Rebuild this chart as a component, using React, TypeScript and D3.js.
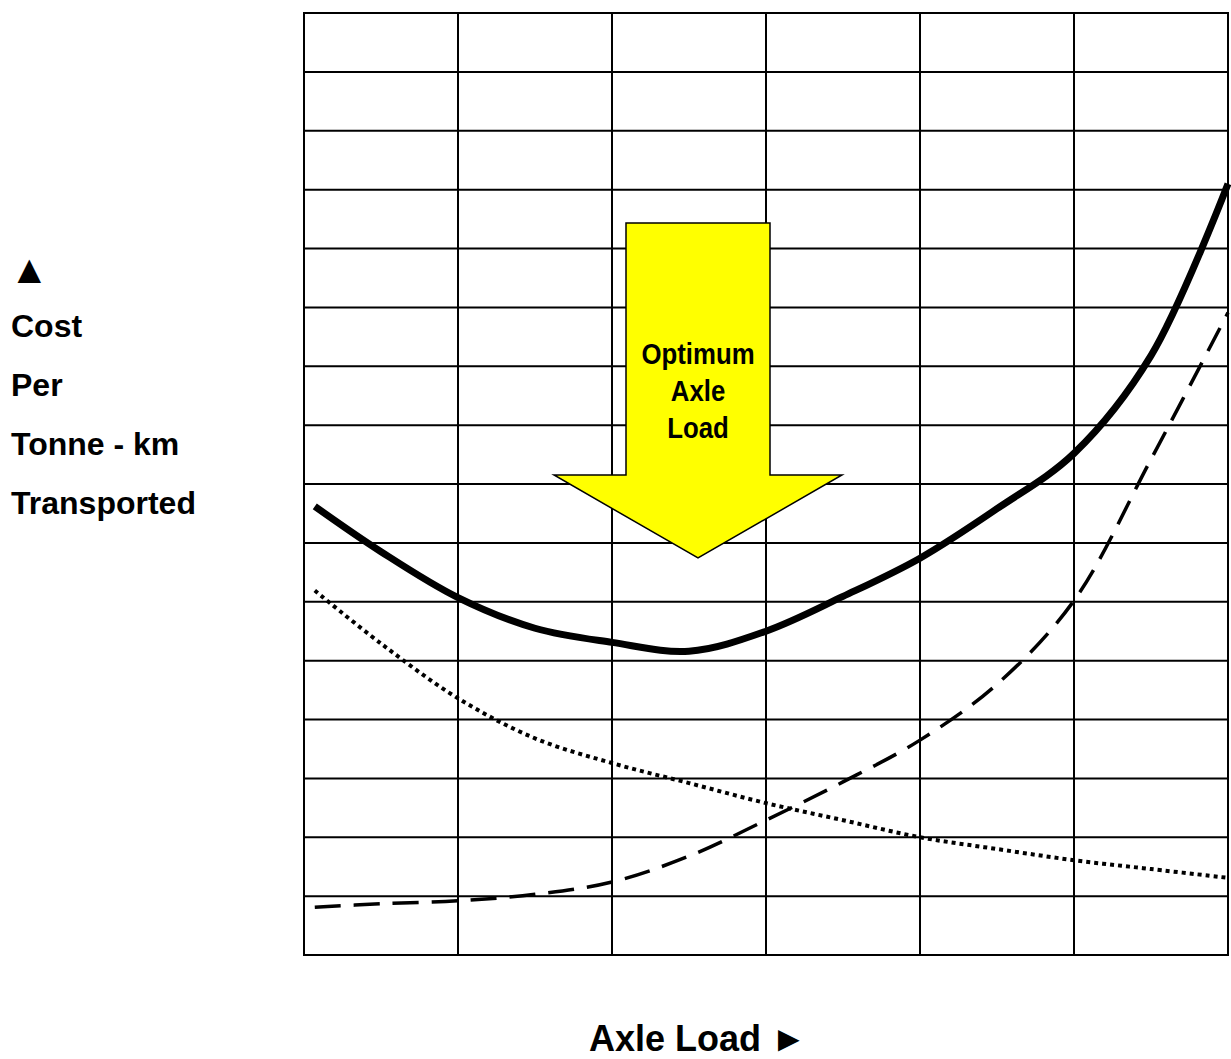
import { useEffect, useRef } from 'react';
import * as d3 from 'd3';

// Axle load positions, in grid columns (0..6)
const axleLoad = [0.07, 0.5, 1, 1.5, 2, 2.5, 3, 3.5, 4, 4.5, 5, 5.5, 6];

// Cost per tonne-km, in grid rows (0..16)
const totalCost = [7.62, 6.85, 6.07, 5.55, 5.31, 5.16, 5.5, 6.09, 6.74, 7.58, 8.52, 10.18, 13.1];
const trackCost = [0.81, 0.87, 0.92, 1.03, 1.24, 1.68, 2.29, 2.94, 3.65, 4.6, 6.02, 8.42, 10.91];
const vehicleCost = [6.19, 5.29, 4.36, 3.68, 3.26, 2.92, 2.58, 2.29, 2.0, 1.8, 1.61, 1.46, 1.31];

const gridColumns = d3.range(0, 7);
const gridRows = d3.range(0, 17);

const yAxisLabels = ['Cost', 'Per', 'Tonne - km', 'Transported'];
const arrowLabel = ['Optimum', 'Axle', 'Load'];
const xAxisLabel = 'Axle Load \u25BA';

const W = 1231;
const H = 1059;
const FONT = '"Liberation Sans", Arial, Helvetica, sans-serif';

export default function App() {
  const svgRef = useRef<SVGSVGElement>(null);

  useEffect(() => {
    if (!svgRef.current) return;
    const svg = d3.select(svgRef.current);
    svg.selectAll('*').remove();

    const x = d3.scaleLinear().domain([0, 6]).range([304, 1228]);
    const y = d3.scaleLinear().domain([0, 16]).range([955, 13]);

    // Grid
    const grid = svg.append('g').attr('stroke', '#000').attr('stroke-width', 2);
    grid
      .selectAll('.v')
      .data(gridColumns)
      .enter()
      .append('line')
      .attr('x1', (d) => x(d))
      .attr('x2', (d) => x(d))
      .attr('y1', y(0) + 1)
      .attr('y2', y(16) - 1);
    grid
      .selectAll('.h')
      .data(gridRows)
      .enter()
      .append('line')
      .attr('x1', x(0) - 1)
      .attr('x2', x(6) + 1)
      .attr('y1', (d) => y(d))
      .attr('y2', (d) => y(d));

    const line = (vals: number[]) =>
      d3
        .line<number>()
        .x((_, i) => x(axleLoad[i]))
        .y((d) => y(d))
        .curve(d3.curveCatmullRom.alpha(0.5))(vals);

    // Vehicle cost (dotted)
    svg
      .append('path')
      .attr('d', line(vehicleCost))
      .attr('fill', 'none')
      .attr('stroke', '#000')
      .attr('stroke-width', 4)
      .attr('stroke-dasharray', '4 4');

    // Track cost (dashed)
    svg
      .append('path')
      .attr('d', line(trackCost))
      .attr('fill', 'none')
      .attr('stroke', '#000')
      .attr('stroke-width', 3.5)
      .attr('stroke-dasharray', '26 13');

    // Total cost (solid)
    svg
      .append('path')
      .attr('d', line(totalCost))
      .attr('fill', 'none')
      .attr('stroke', '#000')
      .attr('stroke-width', 7);

    // Optimum arrow
    const ax = 698;
    const arrow = d3.path();
    arrow.moveTo(ax - 72, 223);
    arrow.lineTo(ax + 72, 223);
    arrow.lineTo(ax + 72, 475);
    arrow.lineTo(ax + 144, 475);
    arrow.lineTo(ax, 558);
    arrow.lineTo(ax - 144, 475);
    arrow.lineTo(ax - 72, 475);
    arrow.closePath();
    svg
      .append('path')
      .attr('d', arrow.toString())
      .attr('fill', '#FFFF00')
      .attr('stroke', '#000')
      .attr('stroke-width', 1.5);

    svg
      .selectAll('.arrow-label')
      .data(arrowLabel)
      .enter()
      .append('text')
      .attr('transform', (_, i) => `translate(${ax},${364 + i * 37}) scale(0.86,1)`)
      .attr('text-anchor', 'middle')
      .attr('font-family', FONT)
      .attr('font-weight', 'bold')
      .attr('font-size', 30)
      .attr('fill', '#000')
      .text((d) => d);

    // Y axis label
    svg
      .append('text')
      .attr('x', 9.5)
      .attr('y', 283)
      .attr('font-family', FONT)
      .attr('font-size', 40)
      .attr('fill', '#000')
      .text('\u25B2');
    svg
      .selectAll('.y-label')
      .data(yAxisLabels)
      .enter()
      .append('text')
      .attr('x', 11)
      .attr('y', (_, i) => 337 + i * 59)
      .attr('font-family', FONT)
      .attr('font-weight', 'bold')
      .attr('font-size', 32)
      .attr('fill', '#000')
      .text((d) => d);

    // X axis label
    svg
      .append('text')
      .attr('x', 589)
      .attr('y', 1051)
      .attr('font-family', FONT)
      .attr('font-weight', 'bold')
      .attr('font-size', 36)
      .attr('fill', '#000')
      .text(xAxisLabel);
  }, []);

  return (
    <div style={{ position: 'absolute', left: 0, top: 0, width: W, height: H, background: '#fff' }}>
      <svg ref={svgRef} width={W} height={H} style={{ display: 'block' }} />
    </div>
  );
}
